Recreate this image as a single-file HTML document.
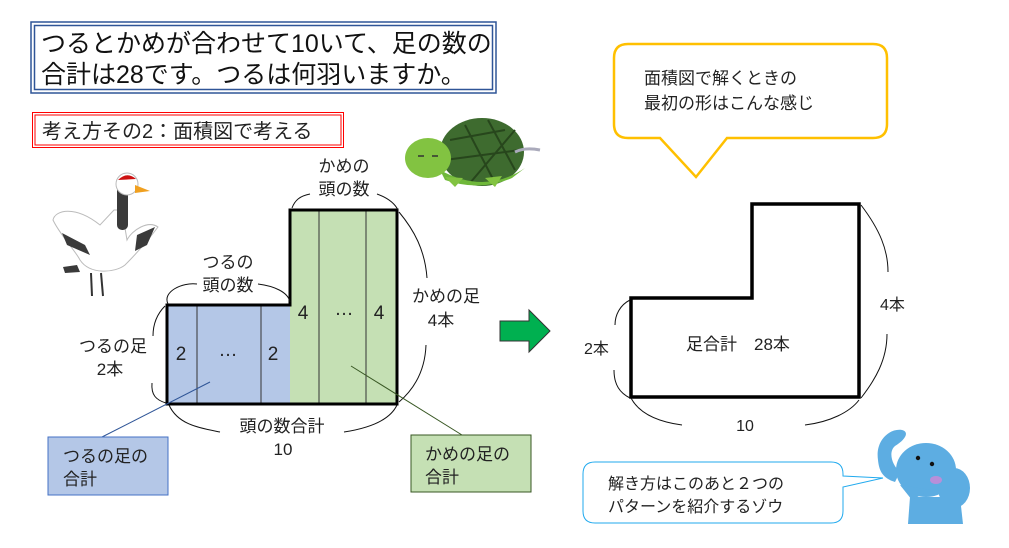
<!DOCTYPE html>
<html><head><meta charset="utf-8"><style>
html,body{margin:0;padding:0;background:#fff;}
svg{display:block;font-family:"Liberation Sans","Noto Sans CJK JP",sans-serif;}
</style></head><body>
<svg width="1009" height="548" viewBox="0 0 1009 548" xmlns="http://www.w3.org/2000/svg">
<!-- title -->
<rect x="31" y="22" width="465" height="71" fill="#fff" stroke="#2f5597" stroke-width="1.5"/>
<rect x="34.5" y="25.5" width="458" height="64" fill="none" stroke="#2f5597" stroke-width="1.5"/>
<text x="41" y="52" font-size="25" fill="#111">つるとかめが合わせて10いて、足の数の</text>
<text x="41" y="83" font-size="25" fill="#111">合計は28です。つるは何羽いますか。</text>
<!-- red box -->
<rect x="32.5" y="112.5" width="311" height="35" fill="#fff" stroke="#ff0000" stroke-width="1"/>
<rect x="35" y="115" width="306" height="30" fill="none" stroke="#ff0000" stroke-width="1"/>
<text x="42" y="138" font-size="20" fill="#222">考え方その2：面積図で考える</text>

<!-- crane -->
<g>
<path d="M100 225 C75 205 55 210 53 220 C60 235 75 250 80 260 C90 275 115 273 125 265 C140 250 152 235 158 227 C148 220 132 230 127 240 L122 210 L114 210 Z" fill="#fff" stroke="#bbb" stroke-width="1"/>
<path d="M62 233 L85 245 L90 255 L67 245Z M137 235 L155 227 L147 245 L135 251Z M63 267 L77 265 L80 272 L65 273Z" fill="#3a3a3a"/>
<rect x="117" y="185" width="11" height="45" rx="5" fill="#3a3a3a"/>
<circle cx="127" cy="184" r="11" fill="#fff" stroke="#bbb"/>
<path d="M118 180 Q127 171 136 179 Z" fill="#cc1111"/>
<path d="M135 185 L150 191 L135 193Z" fill="#f0a020"/>
<line x1="91" y1="273" x2="92" y2="296" stroke="#333" stroke-width="2"/>
<line x1="101" y1="273" x2="103" y2="296" stroke="#333" stroke-width="2"/>
</g>
<!-- turtle -->
<g>
<ellipse cx="482" cy="152" rx="42" ry="34" fill="#3e6b2f"/>
<path d="M450 140 L505 130 M445 160 L520 150 M465 125 L495 183 M488 120 L515 170 M515 130 L470 183" stroke="#27461c" stroke-width="2"/>
<path d="M440 170 Q485 195 525 168 L512 178 Q480 192 445 180Z" fill="#6fb83a"/>
<ellipse cx="428" cy="158" rx="23" ry="20" fill="#82c341"/>
<path d="M445 177 L455 187 L463 178Z M485 178 L495 187 L502 176Z" fill="#82c341"/>
<line x1="418" y1="156" x2="424" y2="156" stroke="#333" stroke-width="1.5"/>
<line x1="432" y1="156" x2="438" y2="156" stroke="#333" stroke-width="1.5"/>
<path d="M515 152 Q525 147 540 150" stroke="#aab" stroke-width="3" fill="none"/>
</g>

<!-- left area diagram -->
<rect x="167" y="305" width="123" height="99" fill="#b4c7e7"/>
<rect x="290" y="210" width="107" height="194" fill="#c5e0b4"/>
<g stroke="#333" stroke-width="1">
<line x1="197" y1="305" x2="197" y2="404"/><line x1="261" y1="305" x2="261" y2="404"/>
<line x1="319" y1="210" x2="319" y2="404"/><line x1="366" y1="210" x2="366" y2="404"/>
</g>
<polygon points="167,305 290,305 290,210 397,210 397,404 167,404" fill="none" stroke="#000" stroke-width="3"/>
<g font-size="19" fill="#222" text-anchor="middle">
<text x="181" y="360">2</text><text x="228" y="356">…</text><text x="273" y="360">2</text>
<text x="303" y="319">4</text><text x="344" y="315">…</text><text x="379" y="319">4</text>
</g>
<!-- braces -->
<g fill="none" stroke="#111" stroke-width="1">
<path d="M168 304 C162 292 182 282 197 284"/>
<path d="M258 284 C274 286 288 292 290 302"/>
<path d="M292 208 C295 200 300 196 310 194"/>
<path d="M377 194 C388 198 395 204 398 210"/>
<path d="M399 212 C414 230 425 250 427 278"/>
<path d="M426 345 C425 372 413 390 399 402"/>
<path d="M165 306 C156 315 153 325 153 336"/>
<path d="M152 383 C151 395 156 400 166 403"/>
<path d="M169 405 C178 425 200 428 220 432"/>
<path d="M344 432 C370 428 390 420 397 405"/>
</g>
<g font-size="17" fill="#222" text-anchor="middle">
<text x="113" y="352">つるの足</text><text x="110" y="375">2本</text>
<text x="228" y="268">つるの</text><text x="228" y="291">頭の数</text>
<text x="344" y="172">かめの</text><text x="344" y="195">頭の数</text>
<text x="446" y="302">かめの足</text><text x="441" y="326">4本</text>
<text x="282" y="432">頭の数合計</text><text x="283" y="455">10</text>
</g>
<line x1="210" y1="382" x2="102" y2="437" stroke="#2f5597" stroke-width="1"/>
<line x1="351" y1="366" x2="462" y2="435" stroke="#385723" stroke-width="1"/>
<rect x="48" y="437" width="120" height="58" fill="#b4c7e7" stroke="#4472c4" stroke-width="1"/>
<text x="63" y="462" font-size="17" fill="#222">つるの足の</text><text x="63" y="485" font-size="17" fill="#222">合計</text>
<rect x="411" y="435" width="120" height="57" fill="#c5e0b4" stroke="#385723" stroke-width="1"/>
<text x="425" y="460" font-size="17" fill="#222">かめの足の</text><text x="425" y="483" font-size="17" fill="#222">合計</text>
<!-- arrow -->
<polygon points="500,321 529,321 529,310 550,331 529,352 529,341 500,341" fill="#00b050" stroke="#333" stroke-width="1"/>

<!-- yellow bubble -->
<path d="M628 44 L873 44 Q887 44 887 58 L887 124 Q887 138 873 138 L727 138 L696 177 L660 138 L628 138 Q614 138 614 124 L614 58 Q614 44 628 44Z" fill="#fff" stroke="#ffc000" stroke-width="2.5"/>
<text x="644" y="84" font-size="17" fill="#222">面積図で解くときの</text>
<text x="644" y="109" font-size="17" fill="#222">最初の形はこんな感じ</text>
<!-- right shape -->
<polygon points="631,298 752,298 752,204 859,204 859,397 631,397" fill="#fff" stroke="#000" stroke-width="3.5"/>
<text x="686" y="350" font-size="17" fill="#222">足合計　28本</text>
<g fill="none" stroke="#111" stroke-width="1">
<path d="M630 300 C620 305 615 315 615 325"/>
<path d="M614 370 C614 385 620 393 630 398"/>
<path d="M861 205 C880 230 888 250 888 272"/>
<path d="M887 334 C887 360 875 380 861 398"/>
<path d="M631 398 C640 415 660 422 682 425"/>
<path d="M805 425 C830 422 850 412 859 400"/>
</g>
<text x="584" y="354" font-size="16" fill="#222">2本</text>
<text x="880" y="310" font-size="16" fill="#222">4本</text>
<text x="745" y="431" font-size="16" fill="#222" text-anchor="middle">10</text>
<!-- blue bubble -->
<path d="M595 462 L831 462 Q843 462 843 474 L843 476 L883 478 L843 487 L843 511 Q843 523 831 523 L595 523 Q583 523 583 511 L583 474 Q583 462 595 462Z" fill="#fff" stroke="#22aaee" stroke-width="1"/>
<text x="608" y="489" font-size="16" fill="#222">解き方はこのあと２つの</text>
<text x="608" y="512" font-size="16" fill="#222">パターンを紹介するゾウ</text>
<!-- elephant -->
<g fill="#5dade2">
<path d="M878 460 C875 440 890 428 902 430 C910 432 905 440 895 446 C888 452 892 465 900 472 L895 482 C882 478 879 470 878 460Z"/>
<ellipse cx="926" cy="470" rx="30" ry="27"/>
<ellipse cx="954" cy="488" rx="16" ry="20"/>
<path d="M910 497 L960 497 L963 524 L908 524Z"/>
<path d="M900 485 L930 490 L912 500Z"/>
</g>
<circle cx="918" cy="458" r="2.2" fill="#111"/><circle cx="932" cy="464" r="2.2" fill="#111"/>
<ellipse cx="936" cy="480" rx="6" ry="4" fill="#b88fd9"/>
</svg>
</body></html>
